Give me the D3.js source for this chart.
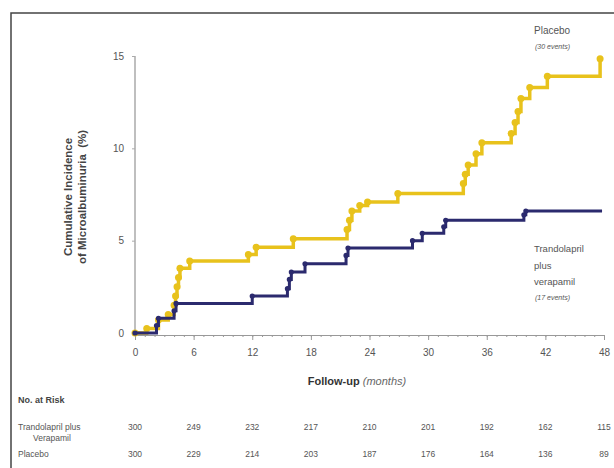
<!DOCTYPE html>
<html>
<head>
<meta charset="utf-8">
<script src="https://cdn.jsdelivr.net/npm/d3@7"></script>
<style>
  body { margin: 0; background: #fff; }
  svg { display: block; font-family: "Liberation Sans", Arial, sans-serif; }
</style>
</head>
<body>
<svg id="chart"></svg>
<script>
// events: [month, cumulative incidence %] after each step
var placeboEvents = [
  [1.2, 0.25], [2.4, 0.7], [3.4, 1.0], [4.0, 1.5], [4.15, 2.0], [4.3, 2.5],
  [4.45, 3.0], [4.6, 3.5], [5.6, 3.9],
  [11.6, 4.25], [12.4, 4.65], [16.2, 5.1],
  [21.7, 5.6], [21.95, 6.1], [22.2, 6.6], [23.0, 6.9], [23.8, 7.1],
  [26.9, 7.55],
  [33.6, 8.1], [33.8, 8.6], [34.1, 9.1], [34.9, 9.7], [35.5, 10.3],
  [38.5, 10.8], [38.9, 11.4], [39.2, 12.0], [39.5, 12.7],
  [40.4, 13.3], [42.2, 13.9], [47.6, 14.85]
];
var placeboEnd = 47.6;

var tvEvents = [
  [2.2, 0.4], [2.4, 0.8], [4.0, 1.2], [4.2, 1.6], [12.0, 2.0],
  [15.6, 2.4], [15.8, 2.9], [16.0, 3.3], [17.4, 3.75],
  [21.6, 4.2], [21.8, 4.6], [28.4, 5.0], [29.4, 5.4],
  [31.6, 5.75], [31.8, 6.1], [39.8, 6.4], [40.0, 6.6]
];
var tvEnd = 47.8;

var xTicks = [0, 6, 12, 18, 24, 30, 36, 42, 48];
var yTicks = [0, 5, 10, 15];
var riskTV = [300, 249, 232, 217, 210, 201, 192, 162, 115];
var riskPlacebo = [300, 229, 214, 203, 187, 176, 164, 136, 89];

var colors = { placebo: "#e8c21c", tv: "#2b2a6e" };

var W = 614, H = 468;
var svg = d3.select("#chart").attr("width", W).attr("height", H);

// frame
svg.append("rect")
  .attr("x", 11).attr("y", 13).attr("width", 640).attr("height", 500)
  .attr("fill", "none").attr("stroke", "#444").attr("stroke-width", 1.5);

var xScale = d3.scaleLinear().domain([0, 48]).range([135, 604]);
var yScale = d3.scaleLinear().domain([0, 15]).range([333, 56]);

// y axis
var yAxis = d3.axisLeft(yScale).tickValues(yTicks).tickSize(3).tickPadding(8);
var yG = svg.append("g").attr("transform", "translate(135,0)").call(yAxis);
yG.select(".domain").attr("stroke", "#aaa").attr("stroke-width", 1.5)
  .attr("d", "M0," + yScale(15) + "V335");
yG.selectAll(".tick line").attr("stroke", "#aaa");
yG.selectAll(".tick text").attr("fill", "#555").style("font-size", "10px");

// x axis, minor ticks every month
var xMinor = d3.axisBottom(xScale).tickValues(d3.range(0, 49)).tickSize(2).tickFormat("");
var xm = svg.append("g").attr("transform", "translate(0,335)").call(xMinor);
xm.select(".domain").attr("stroke", "#999").attr("stroke-width", 1);
xm.selectAll(".tick line").attr("stroke", "#999");

var xAxis = d3.axisBottom(xScale).tickValues(xTicks).tickSize(5).tickPadding(9);
var xG = svg.append("g").attr("transform", "translate(0,335)").call(xAxis);
xG.select(".domain").remove();
xG.selectAll(".tick line").attr("stroke", "#999");
xG.selectAll(".tick text").attr("fill", "#555").style("font-size", "10px");

// axis titles
var xt = svg.append("text").attr("x", 357).attr("y", 385).attr("text-anchor", "middle")
  .style("font-size", "11px");
xt.append("tspan").attr("font-weight", "bold").attr("fill", "#333").text("Follow-up ");
xt.append("tspan").attr("font-style", "italic").attr("fill", "#666").text("(months)");

var yt = svg.append("g").attr("transform", "translate(0,197) rotate(-90)");
yt.append("text").attr("x", 0).attr("y", 72).attr("text-anchor", "middle")
  .attr("font-weight", "bold").attr("fill", "#444").style("font-size", "11.5px")
  .text("Cumulative Incidence");
yt.append("text").attr("x", 0).attr("y", 86).attr("text-anchor", "middle")
  .attr("font-weight", "bold").attr("fill", "#444").style("font-size", "11.5px")
  .text("of Microalbuminuria\u00a0\u00a0(%)");

// curves
function stepPoints(events, end) {
  var pts = [[0, 0]].concat(events);
  var last = pts[pts.length - 1];
  if (last[0] < end) pts.push([end, last[1]]);
  return pts;
}
var line = d3.line()
  .x(function(d) { return xScale(d[0]); })
  .y(function(d) { return yScale(d[1]); })
  .curve(d3.curveStepAfter);

function drawSeries(events, end, color, r, w) {
  svg.append("path")
    .attr("d", line(stepPoints(events, end)))
    .attr("fill", "none").attr("stroke", color).attr("stroke-width", w);
  svg.append("g").selectAll("circle").data([[0, 0]].concat(events)).join("circle")
    .attr("cx", function(d) { return xScale(d[0]); })
    .attr("cy", function(d) { return yScale(d[1]); })
    .attr("r", r).attr("fill", color);
}
drawSeries(placeboEvents, placeboEnd, colors.placebo, 3.5, 3.5);
drawSeries(tvEvents, tvEnd, colors.tv, 2.6, 3);

// series labels
function label(x, y, txt, size, italic) {
  svg.append("text").attr("x", x).attr("y", y).attr("fill", "#555")
    .style("font-size", size + "px").attr("font-style", italic ? "italic" : null)
    .text(txt);
}
label(534, 34, "Placebo", 10);
label(535, 49, "(30 events)", 7, true);
label(534, 252, "Trandolapril", 9.5);
label(534, 269, "plus", 9.5);
label(534, 285, "verapamil", 9.5);
label(535, 300, "(17 events)", 7, true);

// number at risk table
svg.append("text").attr("x", 18).attr("y", 403).attr("font-weight", "bold")
  .attr("fill", "#444").style("font-size", "9px").text("No. at Risk");
label(18, 430, "Trandolapril plus", 8.5);
label(33, 441, "Verapamil", 8.5);
label(18, 457, "Placebo", 8.5);

function riskRow(vals, y) {
  svg.append("g").selectAll("text").data(vals).join("text")
    .attr("x", function(d, i) { return xScale(xTicks[i]); })
    .attr("y", y).attr("text-anchor", "middle").attr("fill", "#555")
    .style("font-size", "8.5px").text(function(d) { return d; });
}
riskRow(riskTV, 430);
riskRow(riskPlacebo, 457);
</script>
</body>
</html>
